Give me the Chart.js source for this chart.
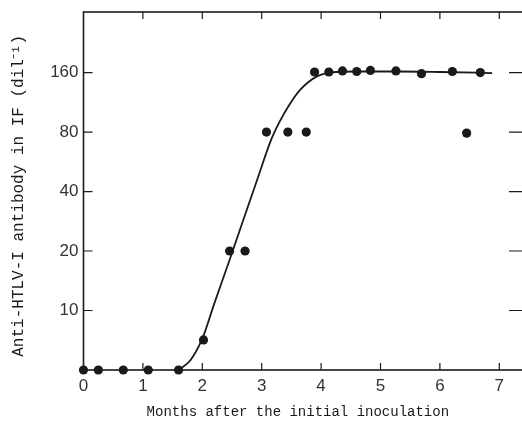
<!DOCTYPE html>
<html>
<head>
<meta charset="utf-8">
<script src="https://cdn.jsdelivr.net/npm/chart.js"></script>
<style>
  html, body { margin: 0; padding: 0; background: #fff; overflow: hidden; }
  #wrap { width: 540px; height: 422px; }
</style>
</head>
<body>
<div id="wrap"><canvas id="grafico" width="540" height="422"></canvas></div>
<script>
const monthTicks = [0, 1, 2, 3, 4, 5, 6, 7];
const titerTicks = [10, 20, 40, 80, 160];

// observed titers, points on the axis (<10) are plotted as 5
const obsMonths = [0, 0.25, 0.67, 1.09, 1.6, 2.02, 2.46, 2.72, 3.08, 3.44, 3.75,
                   3.89, 4.13, 4.36, 4.6, 4.83, 5.26, 5.69, 6.21, 6.45, 6.68];
const obsTiters = [5, 5, 5, 5, 5, 7.1, 20, 20, 80, 80, 80,
                   161, 161, 163, 162, 164, 163, 158, 162, 79, 160];

// fitted curve
const fitMonths = [1.6, 1.8, 2.0, 2.2, 2.45, 2.7, 2.95, 3.15, 3.3, 3.45, 3.65, 3.93, 4.16, 4.6, 5.3, 6.0, 6.88];
const fitTiters = [5, 5.6, 7.2, 10.8, 17.7, 29.3, 48.4, 72, 90, 108, 131, 153, 160, 162, 162, 161, 159];

const ink = "#1a1a1a";

// frame + inward ticks on all four sides
const frame = {
  id: "frame",
  beforeDatasetsDraw(chart) {
    const { ctx, chartArea: a, scales: { x, y } } = chart;
    ctx.save();
    ctx.strokeStyle = ink;
    ctx.lineWidth = 1.6;
    ctx.strokeRect(a.left, a.top, a.right - a.left, a.bottom - a.top);
    ctx.lineWidth = 1.2;
    ctx.beginPath();
    monthTicks.slice(1).forEach(m => {
      const px = x.getPixelForValue(m);
      ctx.moveTo(px, a.bottom); ctx.lineTo(px, a.bottom - 7);
      ctx.moveTo(px, a.top); ctx.lineTo(px, a.top + 7);
    });
    titerTicks.forEach(t => {
      const py = y.getPixelForValue(t);
      ctx.moveTo(a.left, py); ctx.lineTo(a.left + 9, py);
      ctx.moveTo(a.right, py); ctx.lineTo(a.right - 20, py);
    });
    ctx.stroke();
    ctx.restore();
  }
};

new Chart(document.getElementById("grafico"), {
  type: "scatter",
  data: {
    datasets: [
      {
        data: fitMonths.map((m, i) => ({ x: m, y: fitTiters[i] })),
        showLine: true,
        cubicInterpolationMode: "monotone",
        borderColor: ink,
        borderWidth: 1.8,
        pointRadius: 0,
        clip: false
      },
      {
        data: obsMonths.map((m, i) => ({ x: m, y: obsTiters[i] })),
        backgroundColor: ink,
        borderColor: ink,
        borderWidth: 0,
        pointRadius: 4.6,
        clip: false
      }
    ]
  },
  plugins: [frame],
  options: {
    responsive: false,
    animation: false,
    layout: { padding: { left: 0, right: 11, top: 12, bottom: 0 } },
    plugins: { legend: { display: false }, tooltip: { enabled: false } },
    scales: {
      x: {
        type: "linear",
        min: 0,
        max: 7.5,
        afterBuildTicks: s => { s.ticks = monthTicks.map(v => ({ value: v })); },
        afterFit: s => { s.height = 52; s.paddingLeft = 0; s.paddingRight = 0; },
        grid: { display: false, drawTicks: false },
        border: { display: false },
        ticks: {
          padding: 6,
          color: "#333",
          font: { family: "Liberation Sans", size: 17 },
          callback: v => v
        },
        title: {
          display: true,
          text: "Months after the initial inoculation  ",
          color: ink,
          font: { family: "Liberation Mono", size: 14 },
          padding: { top: 0, bottom: 1 }
        }
      },
      y: {
        type: "logarithmic",
        min: 5,
        max: 324,
        afterBuildTicks: s => { s.ticks = titerTicks.map(v => ({ value: v })); },
        afterFit: s => { s.width = 83.5; s.paddingTop = 0; s.paddingBottom = 0; },
        grid: { display: false, drawTicks: false },
        border: { display: false },
        ticks: {
          padding: 5,
          color: "#333",
          font: { family: "Liberation Sans", size: 17 },
          callback: v => v
        },
        title: {
          display: true,
          text: "Anti-HTLV-I antibody in IF (dil\u207B\u00B9) ",
          color: ink,
          font: { family: "Liberation Mono", size: 16 },
          padding: { top: 9, bottom: 0 }
        }
      }
    }
  }
});
</script>
</body>
</html>
